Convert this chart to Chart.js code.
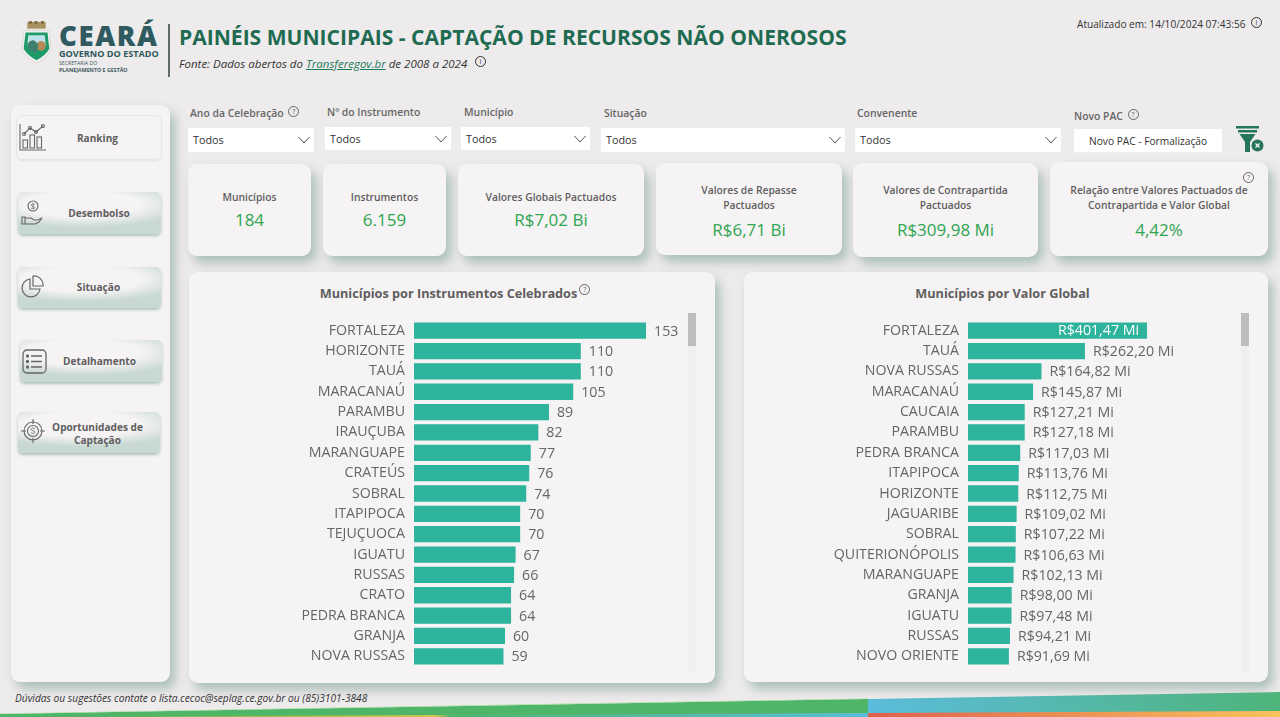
<!DOCTYPE html>
<html lang="pt-BR"><head><meta charset="utf-8">
<title>Painéis Municipais</title>
<script src="https://cdn.jsdelivr.net/npm/chart.js@4"></script>
<style>
html,body{margin:0;padding:0;width:1280px;height:717px;overflow:hidden;background:#eeebec;font-family:"Open Sans",sans-serif;color:#605e5e}
.a{position:absolute;white-space:nowrap}
.card{position:absolute;background:#f5f3f4;border-radius:9px;box-shadow:5px 7px 11px rgba(115,155,140,.55)}
.kt{position:absolute;left:0;right:0;text-align:center;font-size:10.3px;font-weight:600;color:#605e5e;line-height:14.5px}
.kv{position:absolute;left:0;right:0;text-align:center;font-size:17px;font-weight:500;color:#2fa551}
.slab{position:absolute;font-size:10.4px;font-weight:600;color:#666;white-space:nowrap}
.sbox{position:absolute;background:#fff;font-size:10.8px;color:#333;line-height:24px;padding-left:5px;box-sizing:border-box}
.sbox svg{position:absolute;right:3px;top:7px}
.btn{position:absolute;border-radius:5px;background:radial-gradient(ellipse 75% 55% at 45% 30%,#f5f3f4 55%,#c8d8d2 100%);box-shadow:0 2px 3px rgba(130,165,150,.6);font-size:10.1px;font-weight:700;color:#605e5e;text-align:center}
.btn svg{position:absolute}
.btn span{position:absolute;left:0;right:0;text-align:center;line-height:13px}
.q{display:inline-block;width:9px;height:9px;border:1px solid #666;border-radius:50%;font-size:7px;line-height:9px;text-align:center;color:#666;font-weight:400;vertical-align:top}
.ptitle{position:absolute;left:0;right:0;text-align:center;font-size:12.7px;font-weight:700;color:#605e5e}
.track{position:absolute;background:#f0eeef}
.thumb{position:absolute;background:#bdbdbd}
canvas{display:block}
</style></head><body>
<svg class="a" style="left:0;top:0" width="1280" height="717">
 <defs>
  <linearGradient id="g1" x1="0" x2="1"><stop offset="0" stop-color="#5cbcdc"/><stop offset="1" stop-color="#4eb57a"/></linearGradient>
  <linearGradient id="g2" x1="0" x2="1"><stop offset="0" stop-color="#e0604e"/><stop offset="1" stop-color="#f8c25c"/></linearGradient>
  <linearGradient id="g3" x1="0" x2="1"><stop offset="0" stop-color="#39a85a"/><stop offset=".2" stop-color="#7ab84e"/><stop offset=".5" stop-color="#d7c44f"/><stop offset=".52" stop-color="#52b56e"/><stop offset="1" stop-color="#5cbcd8"/></linearGradient>
 </defs>
 <polygon points="0,717 0,714 868,699 868,717" fill="#4fb569"/>
 <polygon points="868,699 1280,692 1280,717 868,717" fill="url(#g1)"/>
 <polygon points="868,713 1280,711 1280,717 868,717" fill="url(#g2)"/>
 <polygon points="0,717 868,713 868,717" fill="url(#g3)"/>
 <polygon points="0,714 868,699 868,698.4 0,713.4" fill="#a8e0a0"/>
</svg>

<!-- logo -->
<svg class="a" style="left:20px;top:21px" width="33" height="44" viewBox="0 0 36 46" preserveAspectRatio="none">
 <rect x="8" y="1" width="20" height="7" fill="#a8925f"/><rect x="10" y="0" width="3" height="3" fill="#7d6c45"/><rect x="16" y="0" width="3" height="3" fill="#7d6c45"/><rect x="23" y="0" width="3" height="3" fill="#7d6c45"/>
 <path d="M4 10 H32 L34 30 Q30 38 18 44 Q6 38 2 30 Z" fill="#f2f2ee" stroke="#d9d9d2"/>
 <path d="M6 12 H30 L32 29 Q28 36 18 41 Q8 36 4 29 Z" fill="#1f9b6a"/>
 <path d="M9 15 H27 L28 26 H8 Z" fill="#bfe3ea"/><circle cx="23" cy="26" r="5" fill="#b88a55"/><path d="M8 24 Q14 16 20 25 L18 34 L10 30 Z" fill="#3f7f70"/>
</svg>
<div class="a" style="left:59px;top:18px;font-size:27.5px;font-weight:800;color:#2f5a60;letter-spacing:1.6px;line-height:36px">CEARÁ</div>
<div class="a" style="left:59px;top:48px;font-size:9.1px;font-weight:700;color:#2f5a60;line-height:11px">GOVERNO DO ESTADO</div>
<div class="a" style="left:59px;top:60px;font-size:5.2px;color:#3d5a5f;line-height:6px">SECRETARIA DO</div>
<div class="a" style="left:59px;top:67px;font-size:5.3px;font-weight:700;color:#3d5a5f;line-height:6px">PLANEJAMENTO E GESTÃO</div>
<div class="a" style="left:167.5px;top:24px;width:2px;height:53px;background:#5f6b6b"></div>

<div class="a" id="mainTitle" style="left:179px;top:22px;font-size:21.07px;font-weight:700;color:#1f6b52;line-height:30px">PAINÉIS MUNICIPAIS - CAPTAÇÃO DE RECURSOS NÃO ONEROSOS</div>
<div class="a" style="left:179px;top:56px;font-size:11.5px;font-style:italic;color:#333;line-height:16px">Fonte: Dados abertos do <span style="color:#1f7a5a;text-decoration:underline">Transferegov.br</span> de 2008 a 2024</div>
<span class="a q" style="left:475px;top:56px;color:#333;border-color:#333">i</span>
<div class="a" style="left:1077px;top:17px;font-size:10.1px;color:#333;line-height:14px">Atualizado em: 14/10/2024 07:43:56</div>
<span class="a q" style="left:1251px;top:17px;color:#333;border-color:#333">i</span>

<!-- sidebar -->
<div class="card" style="left:11px;top:105px;width:159px;height:577px"></div>
<div class="btn" style="left:17px;top:116px;width:144px;height:43px;background:#f5f3f4;box-shadow:0 0 0 1px #e6e6e6,0 2px 2px #dfe5e2">
 <svg style="left:2px;top:7px" width="28" height="28" viewBox="0 0 28 28" fill="none" stroke="#666" stroke-width="1.1"><path d="M1 1V27H27"/><rect x="4" y="17" width="4.5" height="8"/><rect x="11" y="12" width="4.5" height="13"/><rect x="18" y="14" width="4.5" height="11"/><path d="M5 11 L11 5 L17 9 L24 3"/><circle cx="5" cy="11" r="1.5"/><circle cx="11" cy="5" r="1.5"/><circle cx="17" cy="9" r="1.5"/><circle cx="24" cy="3" r="1.5"/></svg>
 <span style="top:16px;left:17px">Ranking</span></div>
<div class="btn" style="left:18px;top:192px;width:143px;height:42px">
 <svg style="left:2px;top:8px" width="24" height="26" viewBox="0 0 24 26" fill="none" stroke="#666" stroke-width="1.1"><circle cx="13" cy="6" r="5"/><path d="M13 3v6M15 4.5c-1-1-4-.7-4 .8s4 .8 4 2.300-3 1.500-4 .5" stroke-width=".7"/><path d="M2 17h3v7H2zM5 18h6l3 2h4l4-2-3 4-4 2H5"/></svg>
 <span style="top:15px;left:19px">Desembolso</span></div>
<div class="btn" style="left:18px;top:267px;width:143px;height:41px">
 <svg style="left:2px;top:8px" width="24" height="24" viewBox="0 0 24 24" fill="none" stroke="#666" stroke-width="1.2"><path d="M10 4A9 9 0 1 0 20 14H10Z"/><path d="M13 1A9 9 0 0 1 23 11H13Z"/></svg>
 <span style="top:14px;left:18px">Situação</span></div>
<div class="btn" style="left:20px;top:340px;width:142px;height:42px">
 <svg style="left:2px;top:9px" width="25" height="25" viewBox="0 0 25 25" fill="none" stroke="#666" stroke-width="1.3"><rect x="1" y="1" width="23" height="23" rx="4"/><path d="M9 7h11M9 12.5h11M9 18h11"/><circle cx="5.500" cy="7" r="1" fill="#666"/><circle cx="5.500" cy="12.5" r="1" fill="#666"/><circle cx="5.500" cy="18" r="1" fill="#666"/></svg>
 <span style="top:15px;left:17px">Detalhamento</span></div>
<div class="btn" style="left:18px;top:412px;width:142px;height:41px">
 <svg style="left:3px;top:6px" width="24" height="26" viewBox="0 0 24 26" fill="none" stroke="#666" stroke-width="1.1"><circle cx="12" cy="13" r="9"/><circle cx="12" cy="13" r="5.5"/><path d="M12 1v5M12 20v5M0 13h5M19 13h5"/><path d="M14 11c-1-1.5-4-1-4 .5s4 1 4 2.500-3 2-4 .5" stroke-width=".8"/></svg>
 <span style="top:9px;left:17px">Oportunidades de<br>Captação</span></div>

<div id="slicers"></div>

<svg class="a" style="left:1236px;top:126px" width="30" height="27" viewBox="0 0 30 27"><rect x="0" y="0" width="23" height="2.5" fill="#24755a"/><rect x="2" y="4" width="19" height="2.5" fill="#24755a"/><path d="M3.5 8 H19.5 L14 16 V26 H9 V16 Z" fill="#24755a"/><circle cx="21.5" cy="19.5" r="6" fill="#24755a"/><path d="M19.5 17.5l4 4m0-4l-4 4" stroke="#fff" stroke-width="1.2"/></svg>

<div id="kpis"></div>

<!-- panels -->
<div class="card" style="left:189px;top:272px;width:526px;height:411px">
 <div class="ptitle" style="top:12px;left:6px"><span id="t1"></span><span class="q" style="margin-left:2px;margin-top:0">?</span></div>
 <div class="track" style="left:499px;top:41px;width:8px;height:359px"></div>
 <div class="thumb" style="left:499px;top:41px;width:8px;height:33px"></div>
</div>
<div class="card" style="left:744px;top:272px;width:524px;height:410px">
 <div class="ptitle" style="top:12px;left:-7px" id="t2"></div>
 <div class="track" style="left:497px;top:41px;width:8px;height:359px"></div>
 <div class="thumb" style="left:497px;top:41px;width:8px;height:33px"></div>
</div>
<div class="a" style="left:190px;top:303px;width:500px;height:381px"><canvas id="c1" width="500" height="381"></canvas></div>
<div class="a" style="left:744px;top:303px;width:490px;height:381px"><canvas id="c2" width="490" height="381"></canvas></div>

<div class="a" style="left:15px;top:691px;font-size:10.2px;font-style:italic;color:#333;line-height:14px">Dúvidas ou sugestões contate o lista.cecoc@seplag.ce.gov.br ou (85)3101-3848</div>

<script>
// ---- chart data ----
const leftTitle = "Municípios por Instrumentos Celebrados";
const leftCategories = ["FORTALEZA","HORIZONTE","TAUÁ","MARACANAÚ","PARAMBU","IRAUÇUBA","MARANGUAPE","CRATEÚS","SOBRAL","ITAPIPOCA","TEJUÇUOCA","IGUATU","RUSSAS","CRATO","PEDRA BRANCA","GRANJA","NOVA RUSSAS"];
const leftValues = [153,110,110,105,89,82,77,76,74,70,70,67,66,64,64,60,59];
const rightTitle = "Municípios por Valor Global";
const rightCategories = ["FORTALEZA","TAUÁ","NOVA RUSSAS","MARACANAÚ","CAUCAIA","PARAMBU","PEDRA BRANCA","ITAPIPOCA","HORIZONTE","JAGUARIBE","SOBRAL","QUITERIONÓPOLIS","MARANGUAPE","GRANJA","IGUATU","RUSSAS","NOVO ORIENTE"];
const rightValues = [401.47,262.20,164.82,145.87,127.21,127.18,117.03,113.76,112.75,109.02,107.22,106.63,102.13,98.00,97.48,94.21,91.69];
// ---- cards and filters ----
const kpiTitles = ["Municípios","Instrumentos","Valores Globais Pactuados","Valores de Repasse<br>Pactuados","Valores de Contrapartida<br>Pactuados","Relação entre Valores Pactuados de<br>Contrapartida e Valor Global"];
const kpiValues = ["184","6.159","R$7,02 Bi","R$6,71 Bi","R$309,98 Mi","4,42%"];
const slicerLabels = ["Ano da Celebração","Nº do Instrumento","Município","Situação","Convenente","Novo PAC"];
const slicerValues = ["Todos","Todos","Todos","Todos","Todos","Novo PAC - Formalização"];

const kpiBoxes = [[188,164,123,92,26,47],[323,164,123,92,26,47],[458,164,186,92,26,47],[656,163,186,92,20,58],[853,163,185,94,20,58],[1050,162,218,94,21,58.5]];
const slicerBoxes = [[188,128,126,24,190,106],[325,127,126,23,327,105],[461,127,129,23,464,105],[601,128,244,24,604,106],[855,128,206,24,857,106],[1074,129,148,23,1074,109]];
const chev = '<svg width="14" height="10" viewBox="0 0 14 10" fill="none" stroke="#555"><path d="M1.5 2 L7 8 L12.5 2"/></svg>';

document.getElementById('slicers').innerHTML = slicerLabels.map((l,i)=>{
  const b = slicerBoxes[i], last = i===5;
  const q = (i===0||last) ? ' <span class="q" style="margin-left:2px">?</span>' : '';
  return `<div class="slab" style="left:${b[4]}px;top:${b[5]}px">${l}${q}</div>`+
   `<div class="sbox" style="left:${b[0]}px;top:${b[1]}px;width:${b[2]}px;height:${b[3]}px;${last?'padding-left:15px;font-size:10.2px;':''}">${slicerValues[i]}${last?'':chev}</div>`;
}).join('');
document.getElementById('kpis').innerHTML = kpiTitles.map((t,i)=>{
  const b = kpiBoxes[i];
  return `<div class="card" style="left:${b[0]}px;top:${b[1]}px;width:${b[2]}px;height:${b[3]}px"><div class="kt" style="top:${b[4]}px">${t}</div><div class="kv" style="top:${b[5]-3}px">${kpiValues[i]}</div>${i===5?'<span class="a q" style="right:14px;top:10px">?</span>':''}</div>`;
}).join('');
document.getElementById('t1').textContent = leftTitle;
document.getElementById('t2').textContent = rightTitle;

const TEXT = '#666666', BAR = '#2eb39c', FONT = '"Open Sans", sans-serif', FS = 14.2;
const brl = v => 'R$' + v.toFixed(2).replace('.', ',') + ' Mi';

const valueLabels = fmt => ({
  id:'valueLabels',
  afterDatasetsDraw(chart){
    const {ctx} = chart, meta = chart.getDatasetMeta(0), data = chart.data.datasets[0].data;
    ctx.save();
    ctx.font = `${FS}px ${FONT}`;
    ctx.textBaseline = 'middle';
    meta.data.forEach((bar,i)=>{
      const s = fmt(data[i]);
      const w = ctx.measureText(s).width;
      if (bar.x + 9 + w > chart.chartArea.right) {
        ctx.fillStyle = '#ffffff'; ctx.textAlign = 'right'; ctx.fillText(s, bar.x - 8, bar.y);
      } else {
        ctx.fillStyle = TEXT; ctx.textAlign = 'left'; ctx.fillText(s, bar.x + 8, bar.y + 1);
      }
    });
    ctx.restore();
  }
});

function build(id, categories, values, max, fmt){
  return new Chart(document.getElementById(id), {
    type:'bar',
    data:{labels:categories, datasets:[{data:values, backgroundColor:BAR, borderColor:'#5cc8b4', borderWidth:0, barPercentage:.8, categoryPercentage:1}]},
    options:{
      indexAxis:'y', responsive:false, animation:false, devicePixelRatio:1,
      layout:{padding:0},
      plugins:{legend:{display:false}, tooltip:{enabled:false}},
      scales:{
        x:{display:false, min:0, max:max},
        y:{
          afterFit(s){ s.width = 224; },
          border:{display:false},
          grid:{display:false, drawTicks:false},
          ticks:{color:TEXT, padding:9, autoSkip:false, font:{family:FONT, size:FS}}
        }
      }
    },
    plugins:[valueLabels(fmt)]
  });
}
build('c1', leftCategories, leftValues, 182, v => String(v));
build('c2', rightCategories, rightValues, 596.5, brl);
</script>
</body></html>
